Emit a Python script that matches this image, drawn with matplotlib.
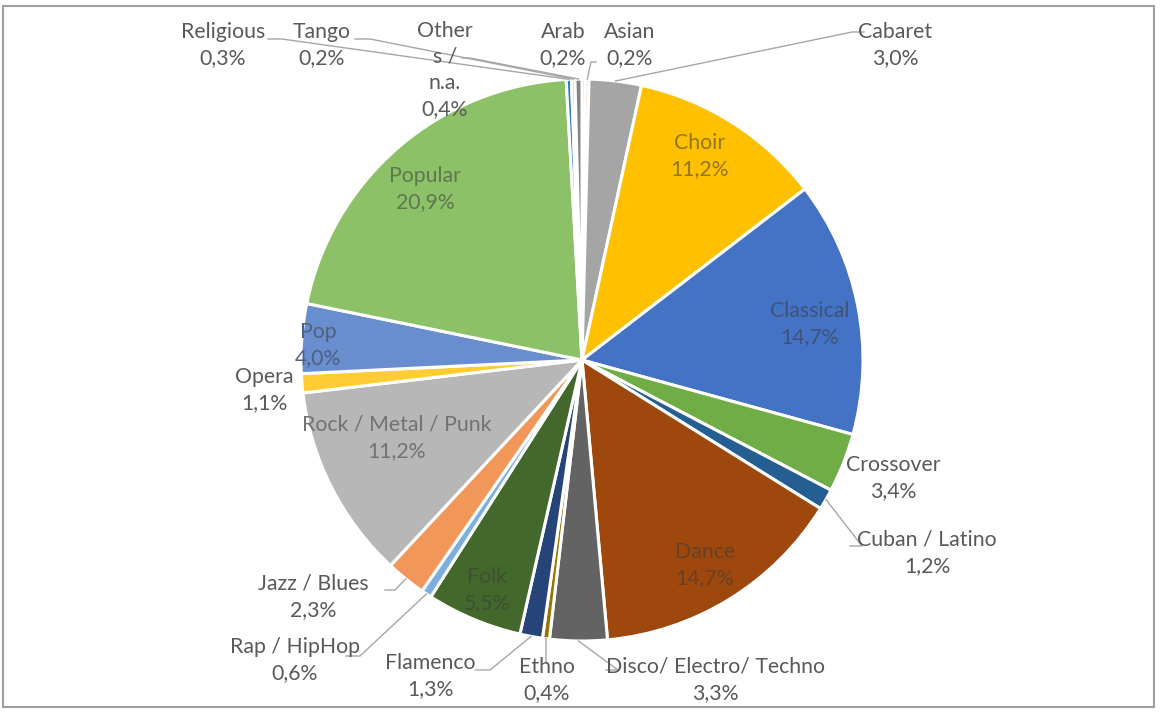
import numpy as np
import matplotlib.pyplot as plt
from matplotlib.patches import Rectangle
from matplotlib.colors import to_rgb

plt.rcParams['font.family'] = ['Lato', 'DejaVu Sans']

# data, clockwise from 12 o'clock
genres = ['Arab', 'Asian', 'Cabaret', 'Choir', 'Classical', 'Crossover', 'Cuban / Latino',
          'Dance', 'Disco / Electro / Techno', 'Ethno', 'Flamenco', 'Folk', 'Rap / HipHop',
          'Jazz / Blues', 'Rock / Metal / Punk', 'Opera', 'Pop', 'Popular', 'Religious',
          'Tango', 'Others / n.a.']
shares = [0.2, 0.2, 3.0, 11.2, 14.7, 3.4, 1.2, 14.7, 3.3, 0.4, 1.3, 5.5, 0.6,
          2.3, 11.2, 1.1, 4.0, 20.9, 0.3, 0.2, 0.4]
colors = ['#5B9BD5', '#ED7D31', '#A5A5A5', '#FFC000', '#4472C4', '#70AD47', '#255E91',
          '#9E480E', '#636363', '#997300', '#264478', '#43682B', '#7CAFDD', '#F1975A',
          '#B7B7B7', '#FFCD33', '#698ED0', '#8CC168', '#327DC2', '#D26012', '#848484']

# label text shown on the chart
label_text = {g: g for g in genres}
label_text['Others / n.a.'] = 'Other\ns /\nn.a.'
label_text['Disco / Electro / Techno'] = 'Disco/ Electro/ Techno'

# label centre (x, y) in pixels, leader start, leader elbow (None = no line)
label_pos = {
    'Arab': (563, 45, None, None),
    'Asian': (630, 45, (596, 62), (591, 62)),
    'Cabaret': (895, 45, (864, 32), (852, 32)),
    'Choir': (700, 156, None, None),
    'Classical': (810, 324, None, None),
    'Crossover': (893, 478, None, None),
    'Cuban / Latino': (927, 553, (850, 546), (862, 546)),
    'Dance': (705, 565, None, None),
    'Disco / Electro / Techno': (715, 680, (606, 670), (618, 670)),
    'Ethno': (547, 680, (546, 662), (546, 662)),
    'Flamenco': (430, 676, (476, 670), (490, 670)),
    'Folk': (487, 590, None, None),
    'Rap / HipHop': (295, 660, (346, 656), (360, 656)),
    'Jazz / Blues': (313, 597, (385, 590), (395, 590)),
    'Rock / Metal / Punk': (397, 438, None, None),
    'Opera': (264, 390, None, None),
    'Pop': (318, 345, None, None),
    'Popular': (425, 189, None, None),
    'Religious': (223, 45, (268, 39), (282, 39)),
    'Tango': (322, 45, (355, 39), (370, 39)),
    'Others / n.a.': (445, 70, (462, 58), (470, 58)),
}
inside = ['Choir', 'Classical', 'Dance', 'Folk', 'Rock / Metal / Punk', 'Pop', 'Popular']

cx, cy, R = 582, 360, 281

fig = plt.figure(figsize=(11.63, 7.13), dpi=100)
ax = fig.add_axes([0, 0, 1, 1])

# y axis is flipped below, so start at 270 and go counterclockwise in data terms
wedges, _ = ax.pie(shares, colors=colors, startangle=270, counterclock=True,
                   center=(cx, cy), radius=R,
                   wedgeprops=dict(edgecolor='white', linewidth=2.2))

ax.set_xlim(0, 1163)
ax.set_ylim(713, 0)
ax.set_aspect('equal')
ax.axis('off')

txt_col = np.array(to_rgb('#595959'))
for g, s, w, c in zip(genres, shares, wedges, colors):
    x, y, start, elbow = label_pos[g]
    pct = f'{s:.1f}%'.replace('.', ',')
    col = txt_col
    if g in inside:
        col = 0.55 * np.array(to_rgb('#3A3A3A')) + 0.45 * np.array(to_rgb(c))
    ax.text(x, y, label_text[g] + '\n' + pct, ha='center', va='center',
            fontsize=15.3, color=tuple(col), linespacing=1.38)
    if start is not None:
        mid = np.deg2rad((w.theta1 + w.theta2) / 2)
        px = cx + R * np.cos(mid)
        py = cy + R * np.sin(mid)
        ax.plot([start[0], elbow[0], px], [start[1], elbow[1], py],
                color='#A6A6A6', lw=1)

# screenshot frame
fig.patches.append(Rectangle((0.003, 0.008), 0.989, 0.984, transform=fig.transFigure,
                             fill=False, edgecolor='#A0A0A0', lw=1.5))

fig.savefig('out.png', dpi=100)
